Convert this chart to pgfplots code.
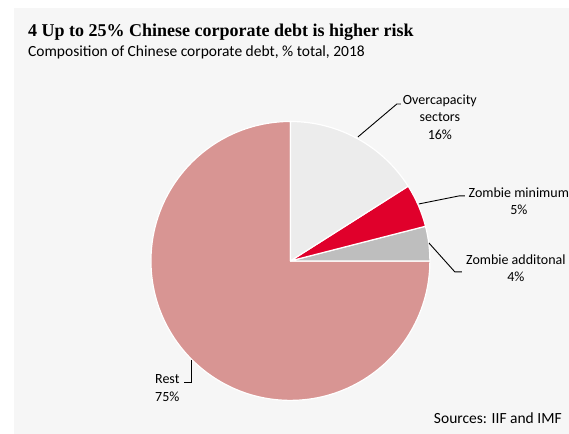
\documentclass[border=0pt]{standalone}
\usepackage{pgfplots}
\usepackage{pgfplotstable}
\pgfplotsset{compat=1.18}
\usepackage{fontspec}
\setmainfont{Carlito}
\newfontfamily\titlefont{Liberation Serif}

\definecolor{panelbg}{HTML}{F6F6F6}
\definecolor{restc}{HTML}{D89593}
\definecolor{overc}{HTML}{ECECEC}
\definecolor{zminc}{HTML}{E0002B}
\definecolor{zaddc}{HTML}{BEBEBE}

% share of total, in drawing order (counter-clockwise from 12 o'clock)
\pgfplotstableread{
label value color
Rest 75 restc
Additional 4 zaddc
Minimum 5 zminc
Overcapacity 16 overc
}\piedata

\begin{document}
\begin{tikzpicture}
\begin{axis}[
    hide axis, scale only axis,
    x=1pt, y=1pt,
    xmin=0, xmax=569, ymin=0, ymax=434,
    clip=false,
]
% background
\fill[white] (axis cs:0,0) rectangle (axis cs:569,434);
\fill[panelbg] (axis cs:14,0) rectangle (axis cs:569,426);

% pie slices
\xdef\startang{90}
\pgfplotsforeachungrouped \i in {0,...,3}{
    \pgfplotstablegetelem{\i}{value}\of\piedata
    \let\val\pgfplotsretval
    \pgfplotstablegetelem{\i}{color}\of\piedata
    \let\col\pgfplotsretval
    \pgfmathsetmacro{\endang}{\startang+3.6*\val}
    \edef\temp{\noexpand\fill[\col, draw=white, line width=1.2pt, line join=round]
        (axis cs:290.5,173) -- ++(\startang:139.5pt)
        arc[start angle=\startang, end angle=\endang, radius=139.5pt] -- cycle;}
    \temp
    \xdef\startang{\endang}
}

% leader lines
\draw[black, line width=0.9pt] (axis cs:358,297) -- (axis cs:397,330) -- (axis cs:401,330);
\draw[black, line width=0.9pt] (axis cs:419,230) -- (axis cs:459,238) -- (axis cs:465,238);
\draw[black, line width=0.9pt] (axis cs:429,191) -- (axis cs:455,162) -- (axis cs:462,162);
\draw[black, line width=0.9pt] (axis cs:191,74) -- (axis cs:191,51) -- (axis cs:184,51);

% labels
\node[align=center, font=\fontsize{14}{17.5}\selectfont, inner sep=0pt] at (axis cs:440,317) {Overcapacity\\sectors\\16\%};
\node[align=center, font=\fontsize{14}{17}\selectfont, inner sep=0pt] at (axis cs:519,232.5) {Zombie minimum\\5\%};
\node[align=center, font=\fontsize{14}{17}\selectfont, inner sep=0pt] at (axis cs:516,165.5) {Zombie additonal\\4\%};
\node[align=left, anchor=west, font=\fontsize{14}{18}\selectfont, inner sep=0pt] at (axis cs:155,46) {Rest\\75\%};
\node[anchor=east, font=\fontsize{15.5}{18}\selectfont, inner sep=0pt] at (axis cs:562,16) {Sources: IIF and IMF};

% titles
\node[anchor=base west, inner sep=0pt, font=\titlefont\bfseries\fontsize{18}{21}\selectfont] at (axis cs:28,397) {4 Up to 25\% Chinese corporate debt is higher risk};
\node[anchor=base west, inner sep=0pt, font=\fontsize{15.5}{18}\selectfont] at (axis cs:28,377) {Composition of Chinese corporate debt, \% total, 2018};
\end{axis}
\end{tikzpicture}
\end{document}
